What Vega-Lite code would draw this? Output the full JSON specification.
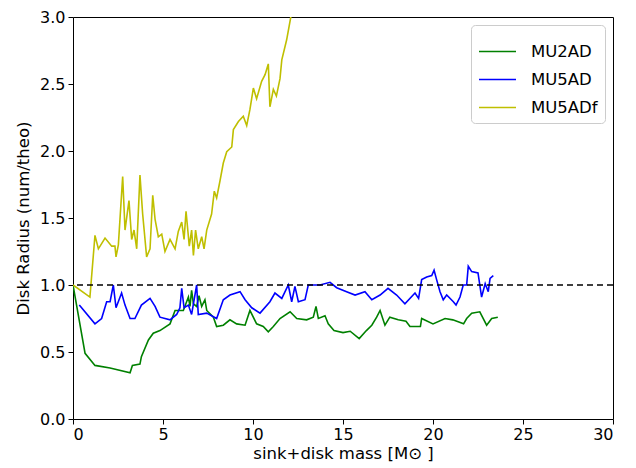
{
  "$schema": "https://vega.github.io/schema/vega-lite/v6.json",
  "width": 540,
  "height": 402,
  "autosize": {"type": "none"},
  "padding": {"left": 73, "top": 17, "right": 23, "bottom": 49},
  "background": "white",
  "config": {
    "font": "DejaVu Sans",
    "view": {"stroke": "black", "strokeWidth": 1},
    "axis": {
      "grid": false,
      "domain": false,
      "tickColor": "black",
      "tickSize": 5,
      "labelFontSize": 16,
      "labelColor": "black",
      "titleFontSize": 16.5,
      "titleFontWeight": "normal",
      "titleColor": "black",
      "labelFont": "DejaVu Sans",
      "titleFont": "DejaVu Sans"
    }
  },
  "datasets": {
    "lines": [
      {"series": "MU2AD", "x": 0, "y": 1.0},
      {"series": "MU2AD", "x": 0.67, "y": 0.49},
      {"series": "MU2AD", "x": 1.22, "y": 0.4},
      {"series": "MU2AD", "x": 2.06, "y": 0.38},
      {"series": "MU2AD", "x": 3.17, "y": 0.345},
      {"series": "MU2AD", "x": 3.3, "y": 0.4},
      {"series": "MU2AD", "x": 3.72, "y": 0.41},
      {"series": "MU2AD", "x": 3.8, "y": 0.465},
      {"series": "MU2AD", "x": 4.19, "y": 0.59},
      {"series": "MU2AD", "x": 4.46, "y": 0.64},
      {"series": "MU2AD", "x": 4.83, "y": 0.66},
      {"series": "MU2AD", "x": 5.39, "y": 0.71},
      {"series": "MU2AD", "x": 5.67, "y": 0.81},
      {"series": "MU2AD", "x": 6.13, "y": 0.81},
      {"series": "MU2AD", "x": 6.41, "y": 0.91},
      {"series": "MU2AD", "x": 6.5, "y": 0.84},
      {"series": "MU2AD", "x": 6.59, "y": 0.96},
      {"series": "MU2AD", "x": 6.69, "y": 0.86},
      {"series": "MU2AD", "x": 6.87, "y": 0.84},
      {"series": "MU2AD", "x": 7.0, "y": 0.92},
      {"series": "MU2AD", "x": 7.15, "y": 0.84},
      {"series": "MU2AD", "x": 7.33, "y": 0.89},
      {"series": "MU2AD", "x": 7.43, "y": 0.81},
      {"series": "MU2AD", "x": 7.8, "y": 0.76},
      {"series": "MU2AD", "x": 7.98, "y": 0.69},
      {"series": "MU2AD", "x": 8.35, "y": 0.7},
      {"series": "MU2AD", "x": 8.72, "y": 0.74},
      {"series": "MU2AD", "x": 9.09, "y": 0.71},
      {"series": "MU2AD", "x": 9.56, "y": 0.7},
      {"series": "MU2AD", "x": 9.83, "y": 0.81},
      {"series": "MU2AD", "x": 10.2, "y": 0.71},
      {"series": "MU2AD", "x": 10.57, "y": 0.69},
      {"series": "MU2AD", "x": 10.85, "y": 0.65},
      {"series": "MU2AD", "x": 11.13, "y": 0.69},
      {"series": "MU2AD", "x": 11.5, "y": 0.75},
      {"series": "MU2AD", "x": 12.06, "y": 0.8},
      {"series": "MU2AD", "x": 12.43, "y": 0.75},
      {"series": "MU2AD", "x": 12.98, "y": 0.74},
      {"series": "MU2AD", "x": 13.35, "y": 0.76},
      {"series": "MU2AD", "x": 13.5, "y": 0.84},
      {"series": "MU2AD", "x": 13.63, "y": 0.75},
      {"series": "MU2AD", "x": 14.0, "y": 0.77},
      {"series": "MU2AD", "x": 14.18, "y": 0.71},
      {"series": "MU2AD", "x": 14.5, "y": 0.66},
      {"series": "MU2AD", "x": 15.0, "y": 0.645},
      {"series": "MU2AD", "x": 15.4, "y": 0.655},
      {"series": "MU2AD", "x": 15.9, "y": 0.6},
      {"series": "MU2AD", "x": 16.3, "y": 0.66},
      {"series": "MU2AD", "x": 16.6, "y": 0.7},
      {"series": "MU2AD", "x": 16.87, "y": 0.76},
      {"series": "MU2AD", "x": 17.06, "y": 0.81},
      {"series": "MU2AD", "x": 17.33, "y": 0.7},
      {"series": "MU2AD", "x": 17.6, "y": 0.76},
      {"series": "MU2AD", "x": 18.07, "y": 0.74},
      {"series": "MU2AD", "x": 18.5, "y": 0.73},
      {"series": "MU2AD", "x": 18.72, "y": 0.69},
      {"series": "MU2AD", "x": 19.3, "y": 0.69},
      {"series": "MU2AD", "x": 19.37, "y": 0.75},
      {"series": "MU2AD", "x": 20.0, "y": 0.71},
      {"series": "MU2AD", "x": 20.67, "y": 0.75},
      {"series": "MU2AD", "x": 21.1, "y": 0.74},
      {"series": "MU2AD", "x": 21.7, "y": 0.71},
      {"series": "MU2AD", "x": 21.87, "y": 0.75},
      {"series": "MU2AD", "x": 22.15, "y": 0.79},
      {"series": "MU2AD", "x": 22.6, "y": 0.8},
      {"series": "MU2AD", "x": 22.98, "y": 0.7},
      {"series": "MU2AD", "x": 23.26, "y": 0.75},
      {"series": "MU2AD", "x": 23.6, "y": 0.76},

      {"series": "MU5AD", "x": 0.35, "y": 0.85},
      {"series": "MU5AD", "x": 1.22, "y": 0.71},
      {"series": "MU5AD", "x": 1.59, "y": 0.75},
      {"series": "MU5AD", "x": 1.87, "y": 0.875},
      {"series": "MU5AD", "x": 2.06, "y": 0.875},
      {"series": "MU5AD", "x": 2.24, "y": 1.0},
      {"series": "MU5AD", "x": 2.39, "y": 0.83},
      {"series": "MU5AD", "x": 2.7, "y": 0.94},
      {"series": "MU5AD", "x": 2.89, "y": 0.85},
      {"series": "MU5AD", "x": 3.17, "y": 0.75},
      {"series": "MU5AD", "x": 3.44, "y": 0.75},
      {"series": "MU5AD", "x": 3.8, "y": 0.85},
      {"series": "MU5AD", "x": 4.28, "y": 0.9},
      {"series": "MU5AD", "x": 4.56, "y": 0.84},
      {"series": "MU5AD", "x": 4.83, "y": 0.76},
      {"series": "MU5AD", "x": 5.39, "y": 0.74},
      {"series": "MU5AD", "x": 5.76, "y": 0.78},
      {"series": "MU5AD", "x": 5.94, "y": 0.83},
      {"series": "MU5AD", "x": 6.04, "y": 0.975},
      {"series": "MU5AD", "x": 6.17, "y": 0.83},
      {"series": "MU5AD", "x": 6.41, "y": 0.85},
      {"series": "MU5AD", "x": 6.59, "y": 0.78},
      {"series": "MU5AD", "x": 6.87, "y": 1.0},
      {"series": "MU5AD", "x": 6.96, "y": 0.78},
      {"series": "MU5AD", "x": 7.43, "y": 0.79},
      {"series": "MU5AD", "x": 7.98, "y": 0.75},
      {"series": "MU5AD", "x": 8.35, "y": 0.89},
      {"series": "MU5AD", "x": 8.72, "y": 0.925},
      {"series": "MU5AD", "x": 9.28, "y": 0.95},
      {"series": "MU5AD", "x": 9.56, "y": 0.89},
      {"series": "MU5AD", "x": 9.93, "y": 0.83},
      {"series": "MU5AD", "x": 10.39, "y": 0.79},
      {"series": "MU5AD", "x": 10.94, "y": 0.875},
      {"series": "MU5AD", "x": 11.22, "y": 0.94},
      {"series": "MU5AD", "x": 11.6, "y": 0.9},
      {"series": "MU5AD", "x": 11.96, "y": 1.0},
      {"series": "MU5AD", "x": 12.15, "y": 0.875},
      {"series": "MU5AD", "x": 12.33, "y": 0.99},
      {"series": "MU5AD", "x": 12.52, "y": 0.875},
      {"series": "MU5AD", "x": 12.89, "y": 0.89},
      {"series": "MU5AD", "x": 13.07, "y": 1.0},
      {"series": "MU5AD", "x": 13.72, "y": 1.0},
      {"series": "MU5AD", "x": 14.28, "y": 1.02},
      {"series": "MU5AD", "x": 14.65, "y": 0.98},
      {"series": "MU5AD", "x": 15.2, "y": 0.95},
      {"series": "MU5AD", "x": 15.67, "y": 0.925},
      {"series": "MU5AD", "x": 16.22, "y": 0.95},
      {"series": "MU5AD", "x": 16.6, "y": 0.89},
      {"series": "MU5AD", "x": 17.06, "y": 0.925},
      {"series": "MU5AD", "x": 17.5, "y": 0.975},
      {"series": "MU5AD", "x": 17.98, "y": 0.925},
      {"series": "MU5AD", "x": 18.44, "y": 0.86},
      {"series": "MU5AD", "x": 19.0, "y": 0.94},
      {"series": "MU5AD", "x": 19.2, "y": 0.9},
      {"series": "MU5AD", "x": 19.37, "y": 1.04},
      {"series": "MU5AD", "x": 19.65, "y": 1.06},
      {"series": "MU5AD", "x": 19.93, "y": 1.07},
      {"series": "MU5AD", "x": 20.06, "y": 1.11},
      {"series": "MU5AD", "x": 20.2, "y": 1.04},
      {"series": "MU5AD", "x": 20.39, "y": 0.95},
      {"series": "MU5AD", "x": 20.57, "y": 0.89},
      {"series": "MU5AD", "x": 20.76, "y": 0.925},
      {"series": "MU5AD", "x": 21.13, "y": 0.875},
      {"series": "MU5AD", "x": 21.28, "y": 0.85},
      {"series": "MU5AD", "x": 21.5, "y": 0.91},
      {"series": "MU5AD", "x": 21.68, "y": 1.0},
      {"series": "MU5AD", "x": 21.87, "y": 1.0},
      {"series": "MU5AD", "x": 21.96, "y": 1.14},
      {"series": "MU5AD", "x": 22.15, "y": 1.1},
      {"series": "MU5AD", "x": 22.5, "y": 1.09},
      {"series": "MU5AD", "x": 22.7, "y": 0.91},
      {"series": "MU5AD", "x": 22.9, "y": 1.01},
      {"series": "MU5AD", "x": 23.07, "y": 0.95},
      {"series": "MU5AD", "x": 23.17, "y": 1.05},
      {"series": "MU5AD", "x": 23.35, "y": 1.07},

      {"series": "MU5ADf", "x": 0, "y": 1.0},
      {"series": "MU5ADf", "x": 0.94, "y": 0.91},
      {"series": "MU5ADf", "x": 1.22, "y": 1.37},
      {"series": "MU5ADf", "x": 1.41, "y": 1.27},
      {"series": "MU5ADf", "x": 1.78, "y": 1.35},
      {"series": "MU5ADf", "x": 2.15, "y": 1.29},
      {"series": "MU5ADf", "x": 2.33, "y": 1.29},
      {"series": "MU5ADf", "x": 2.39, "y": 1.21},
      {"series": "MU5ADf", "x": 2.52, "y": 1.3},
      {"series": "MU5ADf", "x": 2.76, "y": 1.81},
      {"series": "MU5ADf", "x": 2.89, "y": 1.41},
      {"series": "MU5ADf", "x": 3.11, "y": 1.63},
      {"series": "MU5ADf", "x": 3.26, "y": 1.34},
      {"series": "MU5ADf", "x": 3.39, "y": 1.41},
      {"series": "MU5ADf", "x": 3.54, "y": 1.27},
      {"series": "MU5ADf", "x": 3.72, "y": 1.82},
      {"series": "MU5ADf", "x": 3.87, "y": 1.53},
      {"series": "MU5ADf", "x": 4.09, "y": 1.21},
      {"series": "MU5ADf", "x": 4.28, "y": 1.27},
      {"series": "MU5ADf", "x": 4.43, "y": 1.67},
      {"series": "MU5ADf", "x": 4.56, "y": 1.49},
      {"series": "MU5ADf", "x": 4.74, "y": 1.36},
      {"series": "MU5ADf", "x": 4.93, "y": 1.38},
      {"series": "MU5ADf", "x": 5.11, "y": 1.25},
      {"series": "MU5ADf", "x": 5.39, "y": 1.34},
      {"series": "MU5ADf", "x": 5.67, "y": 1.27},
      {"series": "MU5ADf", "x": 5.85, "y": 1.4},
      {"series": "MU5ADf", "x": 6.04, "y": 1.47},
      {"series": "MU5ADf", "x": 6.17, "y": 1.34},
      {"series": "MU5ADf", "x": 6.28, "y": 1.55},
      {"series": "MU5ADf", "x": 6.46, "y": 1.29},
      {"series": "MU5ADf", "x": 6.59, "y": 1.41},
      {"series": "MU5ADf", "x": 6.69, "y": 1.22},
      {"series": "MU5ADf", "x": 6.81, "y": 1.41},
      {"series": "MU5ADf", "x": 6.96, "y": 1.27},
      {"series": "MU5ADf", "x": 7.15, "y": 1.36},
      {"series": "MU5ADf", "x": 7.28, "y": 1.27},
      {"series": "MU5ADf", "x": 7.43, "y": 1.41},
      {"series": "MU5ADf", "x": 7.7, "y": 1.53},
      {"series": "MU5ADf", "x": 7.85, "y": 1.7},
      {"series": "MU5ADf", "x": 7.98, "y": 1.65},
      {"series": "MU5ADf", "x": 8.17, "y": 1.78},
      {"series": "MU5ADf", "x": 8.35, "y": 1.91},
      {"series": "MU5ADf", "x": 8.54, "y": 1.995},
      {"series": "MU5ADf", "x": 8.82, "y": 2.03},
      {"series": "MU5ADf", "x": 8.91, "y": 2.16},
      {"series": "MU5ADf", "x": 9.19, "y": 2.22},
      {"series": "MU5ADf", "x": 9.46, "y": 2.26},
      {"series": "MU5ADf", "x": 9.65, "y": 2.19},
      {"series": "MU5ADf", "x": 9.83, "y": 2.31},
      {"series": "MU5ADf", "x": 10.02, "y": 2.47},
      {"series": "MU5ADf", "x": 10.2, "y": 2.39},
      {"series": "MU5ADf", "x": 10.48, "y": 2.52},
      {"series": "MU5ADf", "x": 10.67, "y": 2.57},
      {"series": "MU5ADf", "x": 10.85, "y": 2.65},
      {"series": "MU5ADf", "x": 10.94, "y": 2.33},
      {"series": "MU5ADf", "x": 11.13, "y": 2.46},
      {"series": "MU5ADf", "x": 11.3, "y": 2.41},
      {"series": "MU5ADf", "x": 11.5, "y": 2.54},
      {"series": "MU5ADf", "x": 11.6, "y": 2.68},
      {"series": "MU5ADf", "x": 11.87, "y": 2.83},
      {"series": "MU5ADf", "x": 12.1, "y": 3.0},
      {"series": "MU5ADf", "x": 12.3, "y": 3.15}
    ]
  },
  "layer": [
    {
      "data": {"name": "lines"},
      "mark": {"type": "line", "strokeWidth": 1.6, "clip": true},
      "encoding": {
        "x": {
          "field": "x",
          "type": "quantitative",
          "scale": {"domain": [0, 30], "nice": false},
          "axis": {"values": [0, 5, 10, 15, 20, 25, 30], "title": "sink+disk mass [M⊙ ]", "titlePadding": 3, "labelPadding": 2}
        },
        "y": {
          "field": "y",
          "type": "quantitative",
          "scale": {"domain": [0, 3], "nice": false},
          "axis": {"values": [0, 0.5, 1, 1.5, 2, 2.5, 3], "format": ".1f", "title": "Disk Radius (num/theo)", "titlePadding": 8, "labelPadding": 3}
        },
        "color": {
          "field": "series",
          "type": "nominal",
          "scale": {"domain": ["MU2AD", "MU5AD", "MU5ADf"], "range": ["#008000", "#0000ff", "#bfbf00"]},
          "legend": {
            "title": null,
            "orient": "top-right",
            "offset": 8,
            "labelFontSize": 16.5,
            "labelColor": "black",
            "symbolType": "stroke",
            "symbolSize": 1369,
            "symbolStrokeWidth": 1.6,
            "rowPadding": -10,
            "strokeColor": "#cccccc",
            "fillColor": "white",
            "cornerRadius": 4,
            "padding": 7,
            "labelOffset": 14
          }
        }
      }
    },
    {
      "data": {"values": [{"y": 1}]},
      "mark": {"type": "rule", "color": "black", "strokeDash": [6, 4], "strokeWidth": 1.5},
      "encoding": {"y": {"field": "y", "type": "quantitative"}}
    }
  ]
}
